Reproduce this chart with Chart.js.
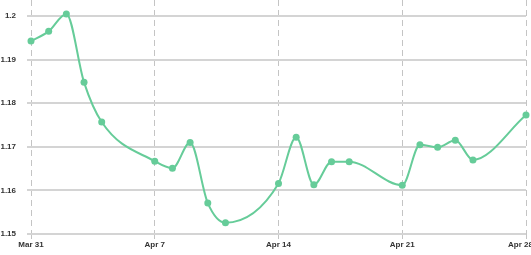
<!DOCTYPE html>
<html>
<head>
<meta charset="utf-8">
<script src="https://cdn.jsdelivr.net/npm/chart.js@4/dist/chart.umd.min.js"></script>
<style>
  html, body { margin: 0; padding: 0; background: #fff; }
  #wrap { width: 531px; height: 255px; position: relative; }
</style>
</head>
<body>
<div id="wrap"><canvas id="plot"></canvas></div>
<script>
// trading days (weekends missing) and closing values
var dates = ['2014-03-31', '2014-04-01', '2014-04-02', '2014-04-03', '2014-04-04',
             '2014-04-07', '2014-04-08', '2014-04-09', '2014-04-10', '2014-04-11',
             '2014-04-14', '2014-04-15', '2014-04-16', '2014-04-17', '2014-04-18',
             '2014-04-21', '2014-04-22', '2014-04-23', '2014-04-24', '2014-04-25',
             '2014-04-28'];
var values = [1.1943, 1.1965, 1.2005, 1.1848, 1.1757,
              1.1667, 1.1651, 1.1710, 1.1571, 1.1526,
              1.1616, 1.1722, 1.1613, 1.1666, 1.1666,
              1.1612, 1.1705, 1.1699, 1.1715, 1.1670,
              1.1773];
var xTickLabels = ['Mar 31', 'Apr 7', 'Apr 14', 'Apr 21', 'Apr 28'];
var yTicks = [1.15, 1.16, 1.17, 1.18, 1.19, 1.2];

// day offset from the first date
var start = Date.parse(dates[0]);
var points = dates.map(function (d, i) {
    return { x: (Date.parse(d) - start) / 86400000, y: values[i] };
});
var lastDay = points[points.length - 1].x;

var tickFont = { family: 'Liberation Sans, Arial, sans-serif', size: 8, weight: 'bold' };

new Chart(document.getElementById('plot'), {
    type: 'line',
    data: {
        datasets: [{
            data: points,
            borderColor: 'rgb(102, 204, 153)',
            backgroundColor: 'rgb(102, 204, 153)',
            borderWidth: 2,
            pointRadius: 3.5,
            pointBorderWidth: 0,
            cubicInterpolationMode: 'monotone',
            fill: false,
            clip: false,
        }],
    },
    options: {
        responsive: true,
        maintainAspectRatio: false,
        animation: false,
        layout: { padding: { top: 0, left: 0, bottom: 0, right: 5 }, autoPadding: false },
        plugins: {
            legend: { display: false },
            tooltip: { enabled: false },
        },
        scales: {
            x: {
                type: 'linear',
                min: 0,
                max: lastDay,
                afterBuildTicks: function (scale) {
                    scale.ticks = xTickLabels.map(function (l, i) { return { value: i * 7 }; });
                },
                afterFit: function (scale) {
                    scale.height = 21;
                    scale.paddingLeft = 0;
                    scale.paddingRight = 0;
                },
                grid: {
                    color: '#c4c4c4',
                    lineWidth: 1,
                    tickLength: 5,
                },
                border: { display: false, dash: [6, 4] },
                ticks: {
                    autoSkip: false,
                    maxRotation: 0,
                    padding: 1,
                    color: '#333',
                    font: tickFont,
                    callback: function (v) {
                        var label = xTickLabels[v / 7];
                        // last label sits against the canvas edge, nudge it left
                        return v === lastDay ? label + '\u00a0\u00a0\u00a0\u00a0\u00a0' : label;
                    },
                },
            },
            y: {
                min: 1.15,
                max: 1.2037,
                afterBuildTicks: function (scale) {
                    scale.ticks = yTicks.map(function (v) { return { value: v }; });
                },
                afterFit: function (scale) {
                    scale.width = 31;
                    scale.paddingTop = 0;
                    scale.paddingBottom = 0;
                },
                grid: {
                    color: '#d4d4d4',
                    lineWidth: 2,
                    tickLength: 4,
                },
                border: { display: false },
                ticks: {
                    padding: 11,
                    color: '#333',
                    font: tickFont,
                    callback: function (v) { return String(+v.toFixed(2)); },
                },
            },
        },
    },
});
</script>
</body>
</html>
